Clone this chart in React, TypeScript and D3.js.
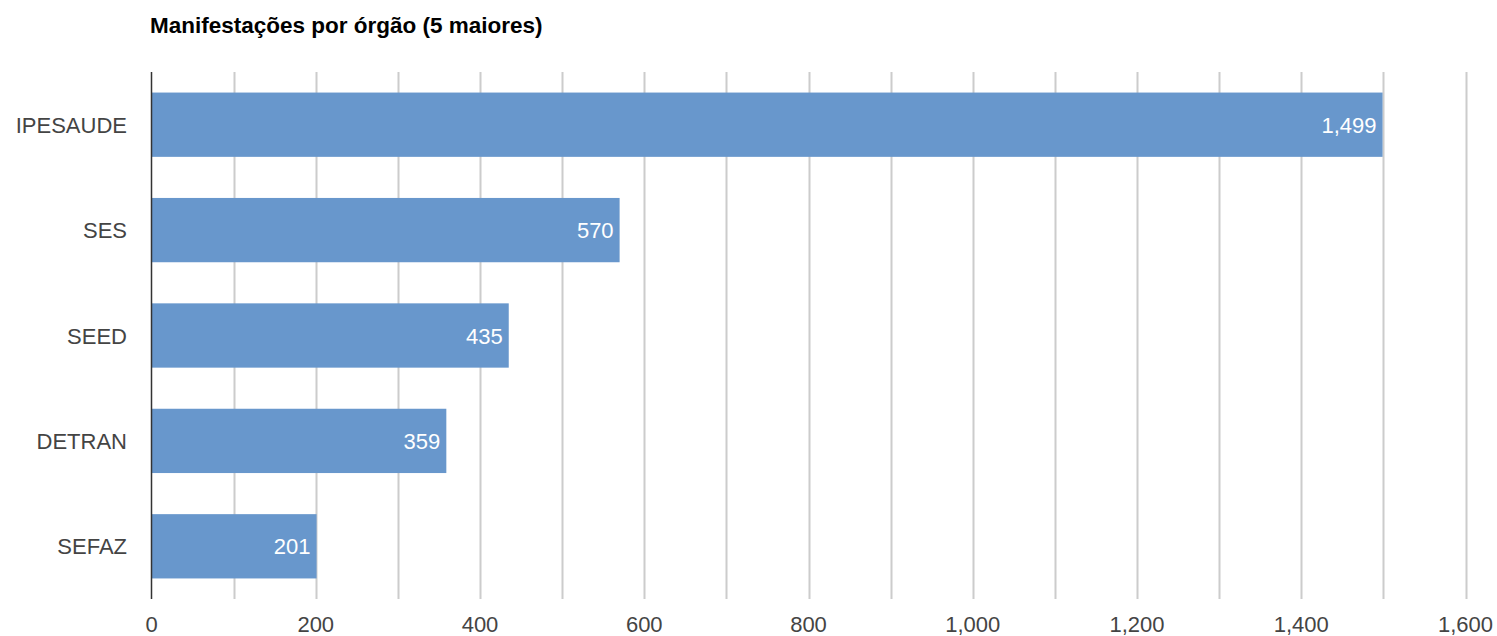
import React, { useEffect, useRef } from 'react';
import * as d3 from 'd3';

// data
const categories = ['IPESAUDE', 'SES', 'SEED', 'DETRAN', 'SEFAZ'];
const values = [1499, 570, 435, 359, 201];
const tickValues = [0, 200, 400, 600, 800, 1000, 1200, 1400, 1600];
const gridValues = d3.range(0, 1700, 100);

const W = 1497;
const H = 636;
const FONT = '"Liberation Sans", Arial, sans-serif';

const App: React.FC = () => {
  const svgRef = useRef<SVGSVGElement>(null);

  useEffect(() => {
    if (!svgRef.current) return;
    const svg = d3.select(svgRef.current);
    svg.selectAll('*').remove();

    const left = 151.5;
    const right = 1465.5;
    const top = 72;
    const bottom = 599;

    const x = d3.scaleLinear().domain([0, 1600]).range([left, right]);
    const y = d3.scaleBand<string>()
      .domain(categories)
      .range([top, bottom])
      .paddingInner(0.39)
      .paddingOuter(0.195);

    svg.append('rect').attr('width', W).attr('height', H).attr('fill', '#fff');

    // title
    svg.append('text')
      .attr('x', 150)
      .attr('y', 33)
      .attr('font-family', FONT)
      .attr('font-size', 22.5)
      .attr('font-weight', 'bold')
      .attr('fill', '#000')
      .text('Manifestações por órgão (5 maiores)');

    // gridlines
    svg.append('g')
      .selectAll('line')
      .data(gridValues.filter(v => v > 0))
      .join('line')
      .attr('x1', d => Math.round(x(d)) + 0.5)
      .attr('x2', d => Math.round(x(d)) + 0.5)
      .attr('y1', top)
      .attr('y2', bottom)
      .attr('stroke', '#cccccc')
      .attr('stroke-width', 2);

    // bars
    const data = categories.map((c, i) => ({ c, v: values[i] }));
    svg.append('g')
      .selectAll('rect')
      .data(data)
      .join('rect')
      .attr('x', x(0))
      .attr('y', d => y(d.c)!)
      .attr('width', d => x(d.v) - x(0))
      .attr('height', y.bandwidth())
      .attr('fill', '#6897cc');

    // value labels inside bars
    svg.append('g')
      .selectAll('text')
      .data(data)
      .join('text')
      .attr('x', d => x(d.v) - 6)
      .attr('y', d => y(d.c)! + y.bandwidth() / 2 + 8)
      .attr('text-anchor', 'end')
      .attr('font-family', FONT)
      .attr('font-size', 22)
      .attr('fill', '#fff')
      .text(d => d3.format(',')(d.v));

    // baseline axis
    svg.append('line')
      .attr('x1', left)
      .attr('x2', left)
      .attr('y1', top)
      .attr('y2', bottom)
      .attr('stroke', '#333')
      .attr('stroke-width', 1.5);

    // category labels
    svg.append('g')
      .selectAll('text')
      .data(categories)
      .join('text')
      .attr('x', 127)
      .attr('y', d => y(d)! + y.bandwidth() / 2 + 8)
      .attr('text-anchor', 'end')
      .attr('font-family', FONT)
      .attr('font-size', 22)
      .attr('fill', '#444')
      .text(d => d);

    // x tick labels
    svg.append('g')
      .selectAll('text')
      .data(tickValues)
      .join('text')
      .attr('x', d => x(d))
      .attr('y', 632)
      .attr('text-anchor', 'middle')
      .attr('font-family', FONT)
      .attr('font-size', 22)
      .attr('fill', '#444')
      .text(d => d3.format(',')(d));
  }, []);

  return (
    <svg
      ref={svgRef}
      width={W}
      height={H}
      style={{ position: 'absolute', left: 0, top: 0, display: 'block' }}
    />
  );
};

export default App;
